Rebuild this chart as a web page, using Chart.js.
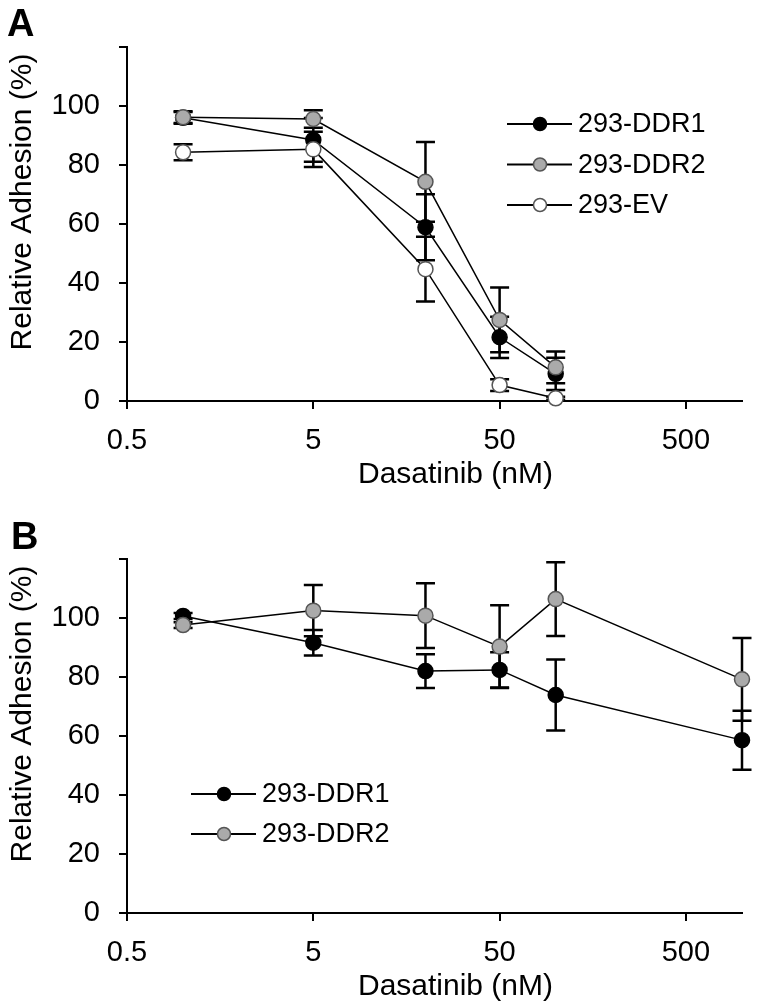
<!DOCTYPE html>
<html>
<head>
<meta charset="utf-8">
<script src="https://cdn.jsdelivr.net/npm/chart.js@4.4.1/dist/chart.umd.min.js"></script>
<style>
  body { margin: 0; background: #fff; }
  #wrap { position: relative; width: 759px; height: 1007px; }
  canvas { position: absolute; left: 0; }
</style>
</head>
<body>
<div id="wrap">
  <canvas id="chartA" width="759" height="503" style="top:0"></canvas>
  <canvas id="chartB" width="759" height="504" style="top:503px"></canvas>
</div>
<script>
const FONT = "'Liberation Sans', Arial, sans-serif";

// panel A - dasatinib dose (nM), mean and error
const dosesA = [1, 5, 20, 50, 100];
const ddr1A = [96, 88.5, 58.9, 21.6, 9.2];
const ddr1ErrA = [2, 7.4, 11.2, 7, 5.5];
const ddr2A = [96.2, 95.6, 74.3, 27.5, 11.4];
const ddr2ErrA = [2, 3, 13.5, 11, 5.4];
const evA = [84.3, 85.3, 44.7, 5.4, 0.9];
const evErrA = [2.7, 6, 11, 2, 0.5];

// panel B
const dosesB = [1, 5, 20, 50, 100, 1000];
const ddr1B = [100.7, 91.6, 82.0, 82.4, 73.9, 58.6];
const ddr1ErrB = [1, 4.3, 5.7, 6, 12, 10];
const ddr2B = [97.6, 102.5, 100.8, 90.3, 106.4, 79.2];
const ddr2ErrB = [1, 8.7, 11, 14, 12.5, 14];

const xTicks = [0.5, 5, 50, 500];
const yTicks = [0, 20, 40, 60, 80, 100, 120];

const toPoints = (xs, ys) => xs.map((x, i) => ({ x: x, y: ys[i] }));

// error bars, drawn under the markers
const errorBars = {
  id: 'errorBars',
  beforeDatasetsDraw(chart) {
    const ctx = chart.ctx;
    const yScale = chart.scales.y;
    ctx.save();
    ctx.strokeStyle = '#000';
    ctx.lineWidth = 2.5;
    chart.data.datasets.forEach((ds, di) => {
      const meta = chart.getDatasetMeta(di);
      meta.data.forEach((pt, i) => {
        const v = ds.data[i].y;
        const e = ds.errors[i];
        const top = yScale.getPixelForValue(v + e);
        const bot = yScale.getPixelForValue(v - e);
        ctx.beginPath();
        ctx.moveTo(pt.x, top); ctx.lineTo(pt.x, bot);
        ctx.moveTo(pt.x - 9.5, top); ctx.lineTo(pt.x + 9.5, top);
        ctx.moveTo(pt.x - 9.5, bot); ctx.lineTo(pt.x + 9.5, bot);
        ctx.stroke();
      });
    });
    ctx.restore();
  }
};

// legend placed inside the plot like the original figure
const innerLegend = {
  id: 'innerLegend',
  afterDatasetsDraw(chart, args, opts) {
    const { ctx, chartArea } = chart;
    ctx.save();
    chart.data.datasets.forEach((ds, i) => {
      const x = chartArea.left + opts.left;
      const y = chartArea.top + opts.top + i * opts.gap;
      ctx.strokeStyle = '#000';
      ctx.lineWidth = 2;
      ctx.beginPath();
      ctx.moveTo(x, y); ctx.lineTo(x + 65, y);
      ctx.stroke();
      ctx.beginPath();
      ctx.arc(x + 33, y, 6.5, 0, Math.PI * 2);
      ctx.fillStyle = ds.pointBackgroundColor;
      ctx.fill();
      ctx.lineWidth = 1.5;
      ctx.strokeStyle = ds.pointBorderColor;
      ctx.stroke();
      ctx.fillStyle = '#000';
      ctx.font = '27px ' + FONT;
      ctx.textBaseline = 'middle';
      ctx.textAlign = 'left';
      ctx.fillText(ds.label, x + 71, y + 1);
    });
    ctx.restore();
  }
};

// panel letter and axis titles
const panelText = {
  id: 'panelText',
  afterDraw(chart, args, opts) {
    const { ctx, chartArea } = chart;
    ctx.save();
    ctx.fillStyle = '#000';
    ctx.textBaseline = 'alphabetic';
    ctx.font = 'bold 38px ' + FONT;
    ctx.textAlign = 'left';
    ctx.fillText(opts.letter, opts.letterX, opts.letterY);
    ctx.font = '30px ' + FONT;
    ctx.textAlign = 'center';
    ctx.fillText('Dasatinib (nM)', (chartArea.left + chartArea.right) / 2 + 21, chartArea.bottom + 82);
    ctx.translate(31, (chartArea.top + chartArea.bottom) / 2 - 22);
    ctx.rotate(-Math.PI / 2);
    ctx.fillText('Relative Adhesion (%)', 0, 0);
    ctx.restore();
  }
};

function makeDataset(label, xs, ys, errs, fillCol, edgeCol, order) {
  return {
    label: label,
    data: toPoints(xs, ys),
    errors: errs,
    borderColor: '#000',
    borderWidth: 1.5,
    pointBackgroundColor: fillCol,
    pointBorderColor: edgeCol,
    pointBorderWidth: 1.5,
    pointRadius: 7.5,
    pointHoverRadius: 7.5,
    fill: false,
    tension: 0,
    order: order,
    clip: false
  };
}

function makeChart(id, datasets, pad, xHeight, legendPos, letter, letterX, letterY) {
  return new Chart(document.getElementById(id), {
    type: 'line',
    data: { datasets: datasets },
    plugins: [errorBars, innerLegend, panelText],
    options: {
      responsive: false,
      animation: false,
      events: [],
      layout: { padding: pad },
      plugins: {
        legend: { display: false },
        tooltip: { enabled: false },
        innerLegend: legendPos,
        panelText: { letter: letter, letterX: letterX, letterY: letterY }
      },
      scales: {
        x: {
          type: 'logarithmic',
          min: 0.5,
          max: 1000,
          afterBuildTicks: s => { s.ticks = xTicks.map(v => ({ value: v })); },
          afterFit: s => { s.height = xHeight; },
          ticks: {
            callback: v => String(v),
            font: { family: FONT, size: 29 },
            color: '#000',
            padding: 15,
            maxRotation: 0,
            autoSkip: false
          },
          grid: { drawOnChartArea: false, drawTicks: true, tickLength: 8, color: '#000', lineWidth: 2 },
          border: { color: '#000', width: 2 }
        },
        y: {
          min: 0,
          max: 120,
          afterBuildTicks: s => { s.ticks = yTicks.map(v => ({ value: v })); },
          afterFit: s => { s.width = 127; },
          ticks: {
            callback: v => (v === 120 ? '' : String(v)),
            font: { family: FONT, size: 29 },
            color: '#000',
            padding: 19
          },
          grid: { drawOnChartArea: false, drawTicks: true, tickLength: 8, color: '#000', lineWidth: 2 },
          border: { color: '#000', width: 2 }
        }
      }
    }
  });
}

makeChart('chartA', [
  makeDataset('293-DDR1', dosesA, ddr1A, ddr1ErrA, '#000000', '#000000', 3),
  makeDataset('293-DDR2', dosesA, ddr2A, ddr2ErrA, '#aaaaaa', '#555555', 2),
  makeDataset('293-EV', dosesA, evA, evErrA, '#ffffff', '#555555', 1)
], { left: 0, top: 47, right: 17, bottom: 0 }, 102,
  { left: 380, top: 77, gap: 40.5 }, 'A', 7, 36);

makeChart('chartB', [
  makeDataset('293-DDR1', dosesB, ddr1B, ddr1ErrB, '#000000', '#000000', 3),
  makeDataset('293-DDR2', dosesB, ddr2B, ddr2ErrB, '#aaaaaa', '#555555', 2)
], { left: 0, top: 56, right: 17, bottom: 0 }, 94,
  { left: 64, top: 235, gap: 40 }, 'B', 11, 46);
</script>
</body>
</html>
